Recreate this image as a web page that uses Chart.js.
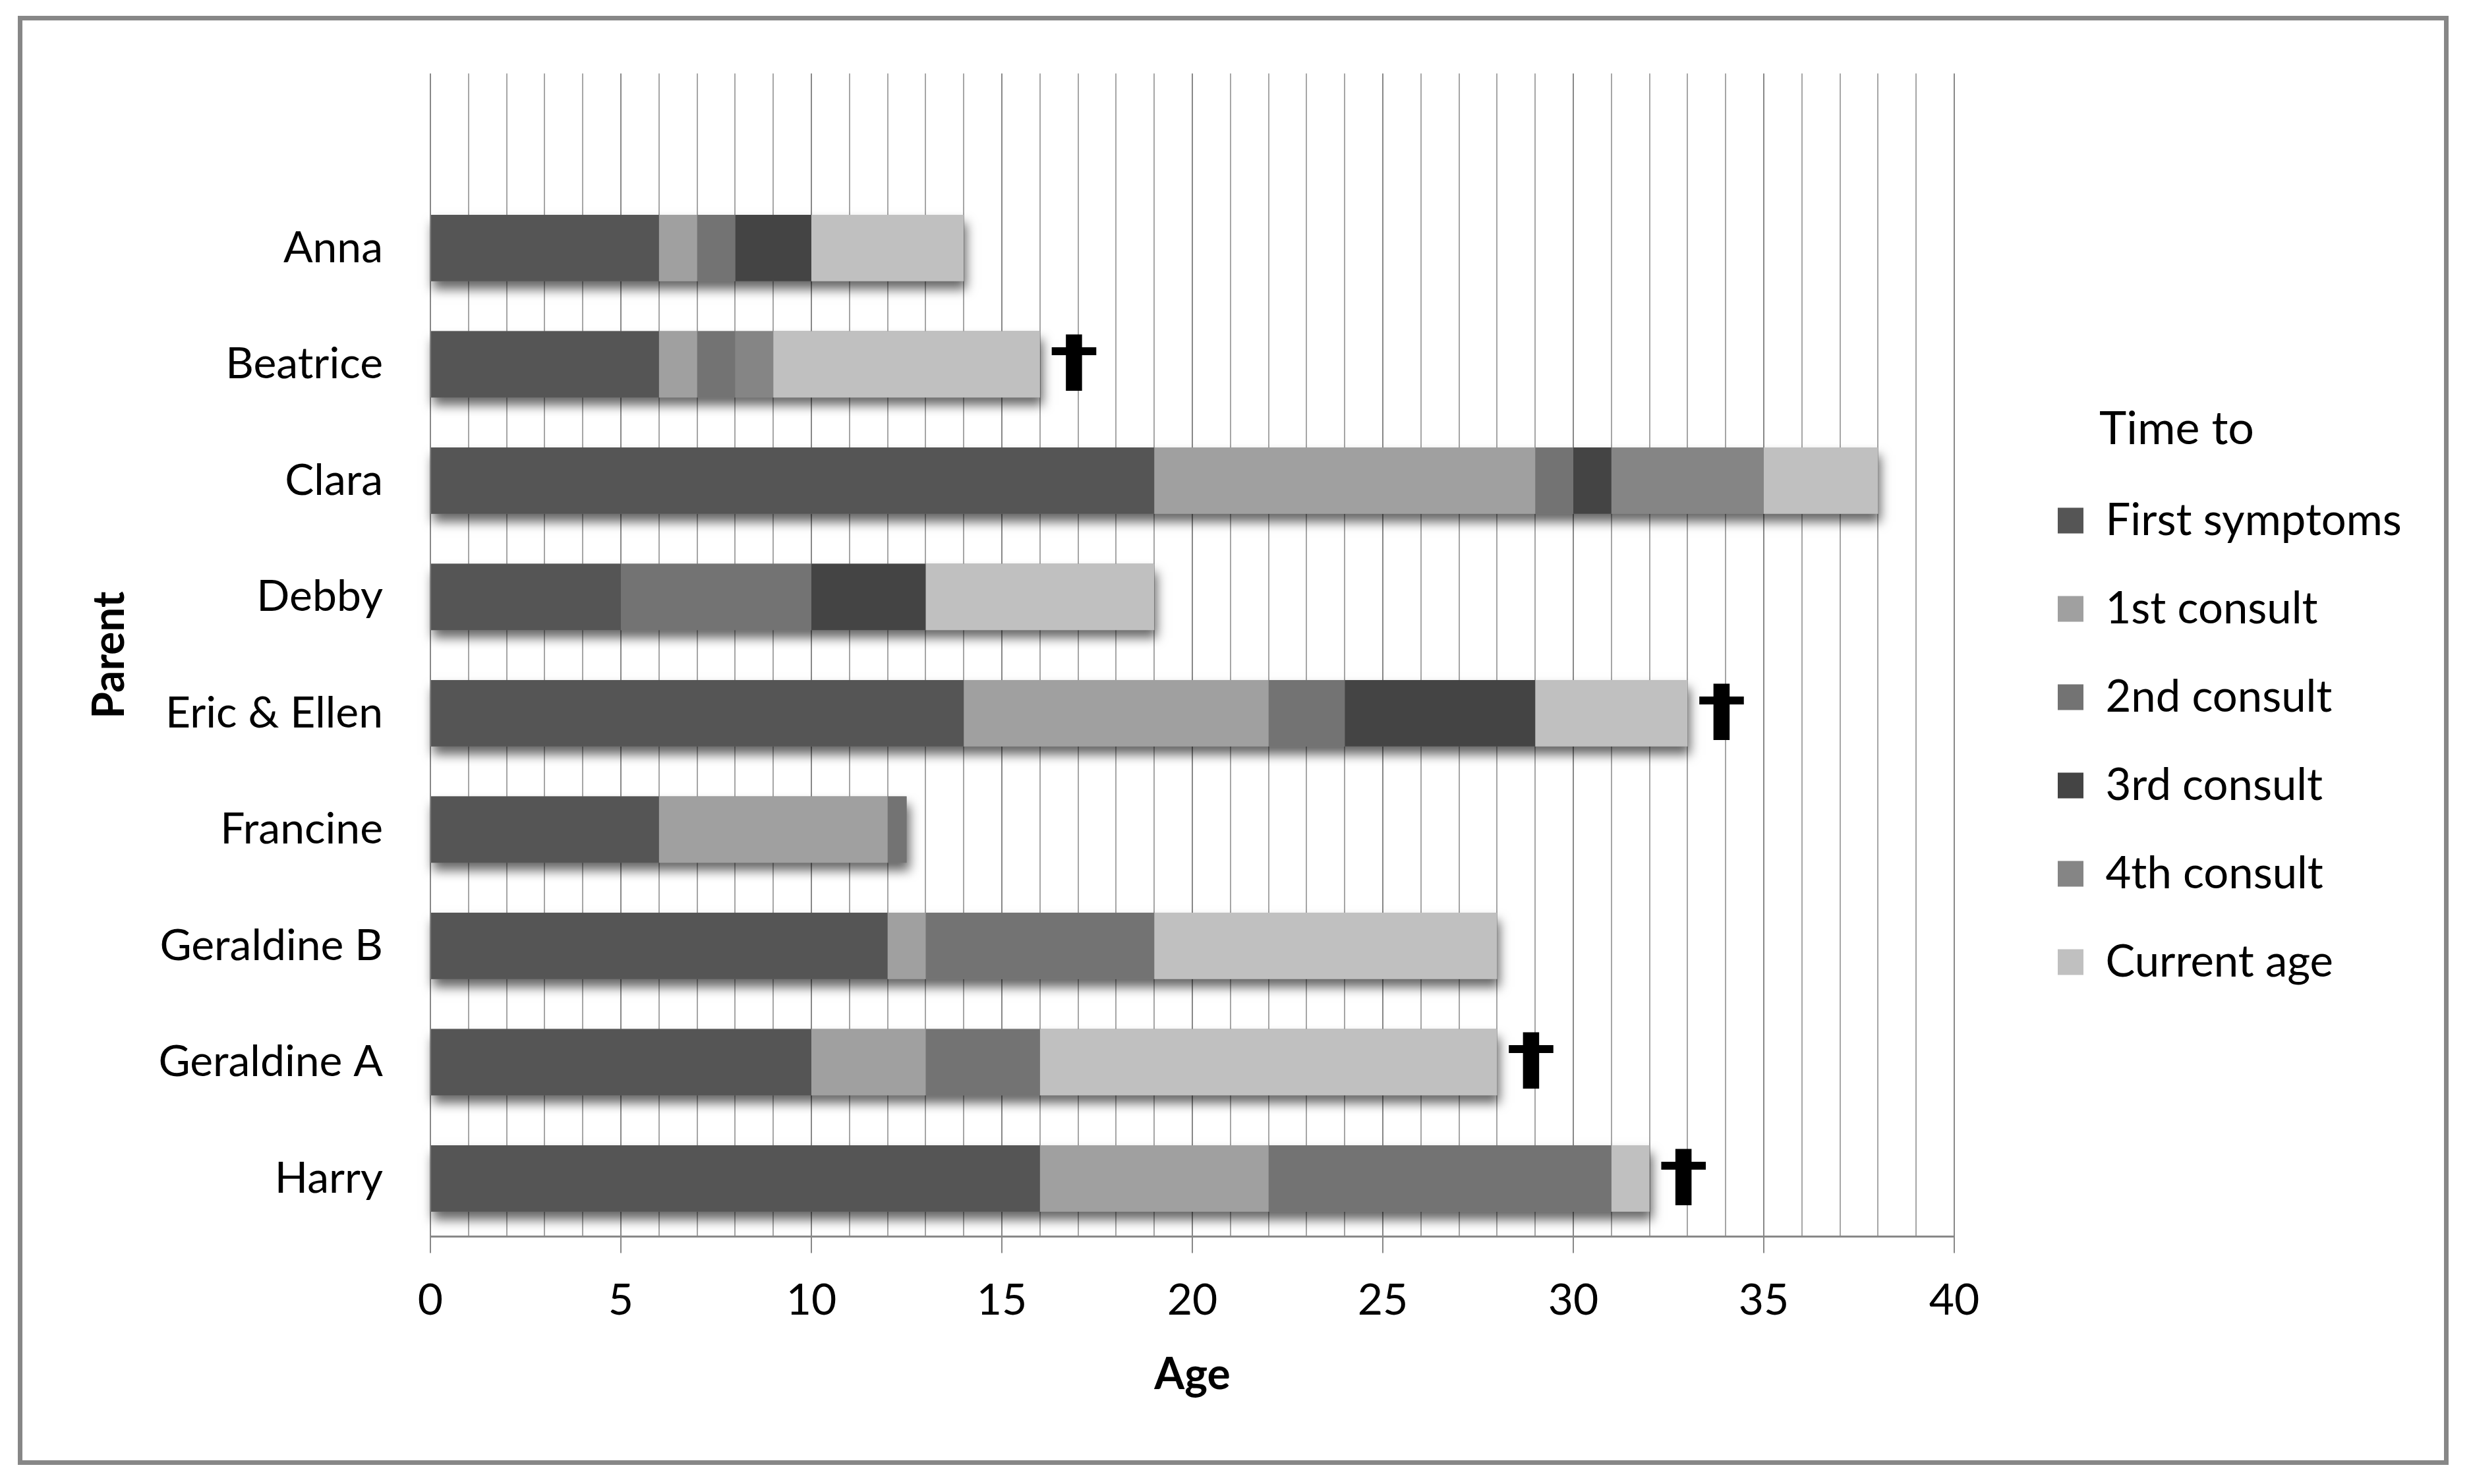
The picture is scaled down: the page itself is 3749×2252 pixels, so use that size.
<!DOCTYPE html>
<html>
<head>
<meta charset="UTF-8">
<title>Time to</title>
<style>
body {
	margin: 0;
	background-color: #ffffff;
}

#wrap {
	position: absolute;
	left: 0;
	top: 0;
	width: 3749px;
	height: 2252px;
}

#frame {
	position: absolute;
	left: 27px;
	top: 24px;
	width: 3674px;
	height: 2185px;
	border: 7px solid #878787;
	pointer-events: none;
}
</style>
<script src="https://cdn.jsdelivr.net/npm/chart.js"></script>
<script>
    // rows of the chart, top to bottom (first one is the empty slot above Anna)
    const parents = ['', 'Anna', 'Beatrice', 'Clara', 'Debby', 'Eric & Ellen', 'Francine', 'Geraldine B', 'Geraldine A', 'Harry'];

    // years spent in each phase, stacked
    const firstSymptoms = [null, 6, 6, 19, 5, 14, 6, 12, 10, 16];
    const firstConsult  = [null, 1, 1, 10, 0, 8, 6, 1, 3, 6];
    const secondConsult = [null, 1, 1, 1, 5, 2, 0.5, 6, 3, 9];
    const thirdConsult  = [null, 2, 0, 1, 3, 5, 0, 0, 0, 0];
    const fourthConsult = [null, 0, 1, 4, 0, 0, 0, 0, 0, 0];
    const currentAge    = [null, 4, 7, 3, 6, 4, 0, 9, 12, 1];

    // deceased parents get a dagger after their bar
    const deceased = [false, false, true, false, false, true, false, false, true, true];

    const seriesNames = ['First symptoms', '1st consult', '2nd consult', '3rd consult', '4th consult', 'Current age'];
    const ageTicks = [0, 5, 10, 15, 20, 25, 30, 35, 40];

    const allSeries = [firstSymptoms, firstConsult, secondConsult, thirdConsult, fourthConsult, currentAge];

    function rowTotal(i) {
        return allSeries.reduce((sum, s) => sum + (s[i] || 0), 0);
    }

    document.addEventListener("DOMContentLoaded", function() {
        Chart.defaults.font.family = 'Lato';
        Chart.defaults.font.size = 66;
        Chart.defaults.color = '#000000';

        var colors = ['#555555', '#a0a0a0', '#737373', '#444444', '#858585', '#c0c0c0'];

        // soft drop shadow under each whole bar, like the spreadsheet original
        var barShadow = {
            id: 'barShadow',
            beforeDatasetsDraw(chart) {
                const ctx = chart.ctx;
                const x = chart.scales.x;
                const meta = chart.getDatasetMeta(0);
                ctx.save();
                ctx.shadowColor = 'rgba(0, 0, 0, 0.6)';
                ctx.shadowBlur = 16;
                ctx.shadowOffsetX = 4;
                ctx.shadowOffsetY = 12;
                ctx.fillStyle = '#888888';
                meta.data.forEach((bar, i) => {
                    const total = rowTotal(i);
                    if (!total) return;
                    const x0 = x.getPixelForValue(0);
                    ctx.fillRect(x0, bar.y - bar.height / 2, x.getPixelForValue(total) - x0, bar.height);
                });
                ctx.restore();
            }
        };

        // dagger glyph, stretched to the squat shape of the original
        var daggers = {
            id: 'daggers',
            afterDatasetsDraw(chart) {
                const ctx = chart.ctx;
                const x = chart.scales.x;
                const y = chart.scales.y;
                ctx.save();
                ctx.fillStyle = '#000000';
                ctx.font = 'bold 100px "DejaVu Sans"';
                ctx.textAlign = 'left';
                ctx.textBaseline = 'alphabetic';
                const m = ctx.measureText('\u2020');
                const gw = m.actualBoundingBoxLeft + m.actualBoundingBoxRight;
                const gh = m.actualBoundingBoxAscent + m.actualBoundingBoxDescent;
                const sx = 70 / gw, sy = 86 / gh;
                parents.forEach((p, i) => {
                    if (!deceased[i]) return;
                    const px = x.getPixelForValue(rowTotal(i)) + 52;
                    const py = y.getPixelForValue(i) - 2;
                    ctx.save();
                    ctx.translate(px, py);
                    ctx.scale(sx, sy);
                    ctx.fillText('\u2020', -gw / 2 + m.actualBoundingBoxLeft, (m.actualBoundingBoxAscent - m.actualBoundingBoxDescent) / 2);
                    ctx.restore();
                });
                ctx.restore();
            }
        };

        // move the legend a bit away from the plot and put "Time to" above the entries
        var legendPlace = {
            id: 'legendPlace',
            afterLayout(chart) {
                chart.legend.left += 90;
                chart.legend.right += 90;
                chart.legend.top += 12;
                chart.legend.bottom += 12;
            },
            afterDraw(chart) {
                const lg = chart.legend;
                const hb = lg.legendHitBoxes[0];
                if (!hb) return;
                const ctx = chart.ctx;
                ctx.save();
                ctx.fillStyle = '#000000';
                ctx.font = '70px Lato';
                ctx.textAlign = 'left';
                ctx.textBaseline = 'middle';
                ctx.fillText('Time to', hb.left + 39 + 24, hb.top + hb.height / 2 - 139);
                ctx.restore();
            }
        };

        var ctx = document.getElementById('chart').getContext('2d');
        new Chart(ctx, {
            type: 'bar',
            data: {
                labels: parents,
                datasets: allSeries.map((s, k) => ({
                    label: seriesNames[k],
                    data: s,
                    backgroundColor: colors[k],
                    borderWidth: 0,
                    barPercentage: 0.57,
                    categoryPercentage: 1
                }))
            },
            options: {
                indexAxis: 'y',
                responsive: true,
                maintainAspectRatio: false,
                animation: false,
                layout: {
                    padding: { top: 100, left: 100, bottom: 126, right: 0 }
                },
                scales: {
                    x: {
                        stacked: true,
                        min: 0,
                        max: 40,
                        ticks: {
                            stepSize: 1,
                            maxTicksLimit: 41,
                            autoSkip: false,
                            maxRotation: 0,
                            padding: 33,
                            callback: v => ageTicks.includes(v) ? String(v) : ''
                        },
                        grid: {
                            lineWidth: 2,
                            tickLength: 25,
                            color: c => (c.tick && c.tick.value % 5 === 0) ? '#888888' : '#a6a6a6',
                            tickColor: c => (c.tick && c.tick.value % 5 === 0) ? '#888888' : 'rgba(0,0,0,0)'
                        },
                        border: { color: '#888888', width: 3 },
                        title: {
                            display: true,
                            text: 'Age',
                            font: { size: 66, weight: 'bold' },
                            padding: { top: 0, bottom: 0 }
                        },
                        afterFit(scale) {
                            scale.paddingRight = 784;
                        }
                    },
                    y: {
                        stacked: true,
                        grid: { display: false, drawTicks: false },
                        border: { display: false },
                        ticks: { padding: 72 },
                        title: {
                            display: true,
                            text: 'Parent',
                            font: { size: 66, weight: 'bold' },
                            padding: { top: 27, bottom: 0 }
                        },
                        afterFit(scale) {
                            scale.width = 553;
                        }
                    }
                },
                plugins: {
                    legend: {
                        position: 'right',
                        align: 'center',
                        labels: {
                            boxWidth: 39,
                            boxHeight: 39,
                            padding: 67,
                            color: '#000000',
                            font: { size: 67 }
                        }
                    },
                    tooltip: { enabled: false }
                }
            },
            plugins: [barShadow, daggers, legendPlace]
        });
    });
</script>
</head>
<body>
	<div id="wrap">
		<canvas id="chart"></canvas>
	</div>
	<div id="frame"></div>
</body>
</html>
